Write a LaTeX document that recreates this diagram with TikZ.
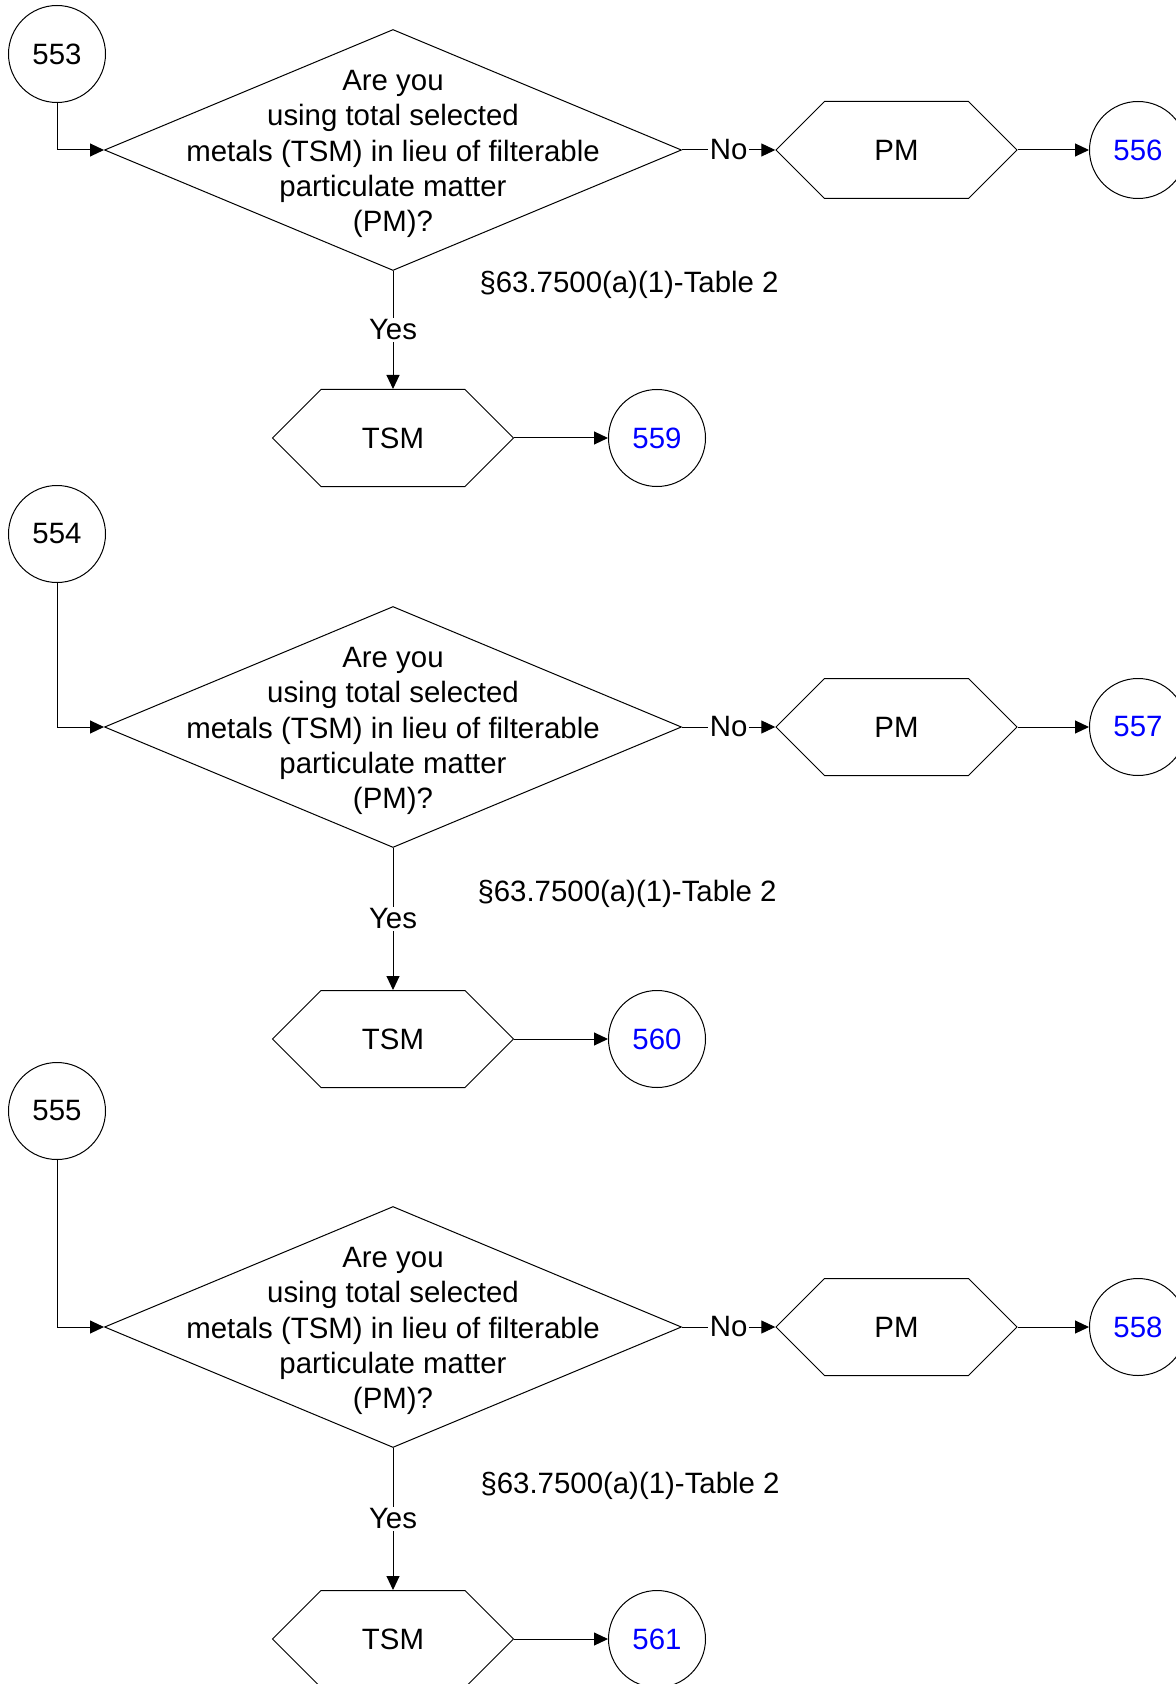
\documentclass[tikz,border=0pt]{standalone}
\usepackage{fontspec}
\setmainfont{Liberation Sans}
\usetikzlibrary{shapes.geometric,shapes.symbols,arrows.meta}

\begin{document}
\begin{tikzpicture}[
  x=0.5pt, y=-0.5pt,
  line width=0.5pt,
  every node/.style={font=\fontsize{14.7}{17.7}\selectfont},
  conn/.style={circle, draw, inner sep=0pt, minimum size=48.5pt},
  ext/.style={conn, text=blue},
  decision/.style={diamond, draw, inner sep=0pt, minimum width=288.5pt, minimum height=120.5pt},
  qtext/.style={align=center, inner sep=0pt, yshift=-2pt},
  hexa/.style={signal, signal to=east and west, signal pointer angle=90, draw, inner sep=0pt,
    minimum width=120.5pt, minimum height=48.5pt},
  lab/.style={fill=white, inner sep=1pt},
  ref/.style={anchor=west, inner sep=0pt, yshift=-1.5pt},
  >={Triangle[length=7pt,width=6.5pt]}
]
\useasboundingbox (0,0) rectangle (1176,1684);

% --- 553 ---
\node[conn]     (c553)   at (57,54)     {553};
\node[decision] (d553)   at (393,150)   {};
\node[qtext]    (t553)   at (d553)      {Are you\\using total selected\\metals (TSM) in lieu of filterable\\particulate matter\\(PM)?};
\node[hexa]     (pm553)  at (896.5,150) {PM};
\node[ext]      (c556)   at (1138,150)  {556};
\node[hexa]     (tsm553) at (393,438)   {TSM};
\node[ext]      (c559)   at (657,438)   {559};
\node[ref]      (r553)   at (479,282)   {\S63.7500(a)(1)-Table 2};
\draw[->] (c553) |- (d553.west);
\draw[->] (d553.east) -- node[lab] {No} (pm553.west);
\draw[->] (pm553.east) -- (c556);
\draw[->] (d553.south) -- node[lab] {Yes} (tsm553.north);
\draw[->] (tsm553.east) -- (c559);

% --- 554 ---
\node[conn]     (c554)   at (57,534)     {554};
\node[decision] (d554)   at (393,727)    {};
\node[qtext]    (t554)   at (d554)       {Are you\\using total selected\\metals (TSM) in lieu of filterable\\particulate matter\\(PM)?};
\node[hexa]     (pm554)  at (896.5,727)  {PM};
\node[ext]      (c557)   at (1138,727)   {557};
\node[hexa]     (tsm554) at (393,1039)   {TSM};
\node[ext]      (c560)   at (657,1039)   {560};
\node[ref]      (r554)   at (477,891)    {\S63.7500(a)(1)-Table 2};
\draw[->] (c554) |- (d554.west);
\draw[->] (d554.east) -- node[lab] {No} (pm554.west);
\draw[->] (pm554.east) -- (c557);
\draw[->] (d554.south) -- node[lab] {Yes} (tsm554.north);
\draw[->] (tsm554.east) -- (c560);

% --- 555 ---
\node[conn]     (c555)   at (57,1111)    {555};
\node[decision] (d555)   at (393,1327)   {};
\node[qtext]    (t555)   at (d555)       {Are you\\using total selected\\metals (TSM) in lieu of filterable\\particulate matter\\(PM)?};
\node[hexa]     (pm555)  at (896.5,1327) {PM};
\node[ext]      (c558)   at (1138,1327)  {558};
\node[hexa]     (tsm555) at (393,1639)   {TSM};
\node[ext]      (c561)   at (657,1639)   {561};
\node[ref]      (r555)   at (480,1483)   {\S63.7500(a)(1)-Table 2};
\draw[->] (c555) |- (d555.west);
\draw[->] (d555.east) -- node[lab] {No} (pm555.west);
\draw[->] (pm555.east) -- (c558);
\draw[->] (d555.south) -- node[lab] {Yes} (tsm555.north);
\draw[->] (tsm555.east) -- (c561);

\end{tikzpicture}
\end{document}
